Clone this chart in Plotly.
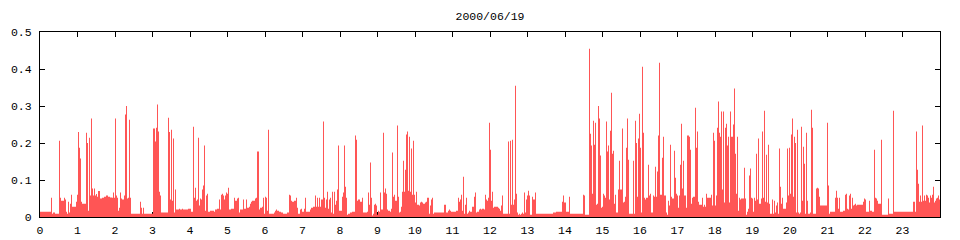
import plotly.graph_objects as go

TITLE = "2000/06/19"
SAMPLE_SECONDS = 96  # one sample every 1.6 minutes

# sample index at which the measured level changes, and the level from that sample on
change_sample = [
    0, 11, 12, 13, 15, 19, 20, 21, 24, 25,
    26, 27, 28, 29, 30, 31, 32, 36, 37, 38,
    39, 40, 41, 42, 46, 47, 48, 49, 50, 51,
    52, 53, 54, 55, 56, 57, 58, 60, 62, 64,
    66, 68, 70, 72, 73, 74, 75, 76, 77, 78,
    79, 80, 81, 82, 84, 85, 86, 87, 88, 89,
    90, 91, 100, 101, 102, 103, 104, 113, 115, 116,
    117, 118, 119, 120, 121, 128, 129, 130, 131, 132,
    133, 134, 135, 136, 139, 140, 142, 143, 148, 151,
    153, 154, 155, 156, 157, 158, 159, 160, 161, 162,
    163, 164, 165, 166, 167, 168, 170, 174, 175, 177,
    179, 180, 181, 182, 183, 184, 185, 186, 187, 188,
    189, 191, 194, 195, 197, 198, 199, 200, 203, 204,
    206, 207, 209, 210, 211, 212, 215, 216, 217, 219,
    220, 222, 223, 224, 225, 226, 227, 228, 229, 234,
    235, 236, 237, 239, 241, 243, 247, 249, 250, 251,
    252, 254, 256, 257, 258, 260, 261, 262, 264, 265,
    266, 270, 271, 273, 275, 276, 277, 278, 279, 280,
    281, 283, 284, 285, 286, 287, 288, 289, 290, 291,
    292, 293, 294, 295, 296, 297, 298, 299, 302, 303,
    304, 305, 306, 307, 308, 310, 312, 315, 316, 317,
    318, 320, 322, 323, 327, 328, 329, 330, 331, 332,
    333, 334, 335, 336, 337, 338, 339, 340, 341, 343,
    344, 345, 346, 347, 348, 350, 351, 352, 353, 354,
    355, 357, 358, 359, 360, 361, 362, 363, 364, 365,
    366, 367, 368, 369, 370, 371, 372, 373, 374, 375,
    376, 377, 379, 380, 381, 382, 383, 385, 386, 387,
    389, 390, 391, 392, 393, 394, 404, 406, 408, 409,
    410, 411, 416, 418, 419, 420, 421, 422, 423, 424,
    425, 426, 427, 428, 429, 430, 432, 434, 435, 436,
    437, 439, 440, 441, 442, 444, 445, 446, 447, 448,
    449, 450, 451, 452, 453, 454, 458, 459, 460, 461,
    462, 463, 468, 469, 470, 471, 472, 473, 474, 475,
    476, 477, 478, 479, 480, 481, 482, 483, 484, 485,
    486, 487, 488, 489, 490, 492, 493, 495, 496, 513,
    516, 522, 523, 524, 526, 529, 530, 543, 544, 545,
    549, 550, 551, 552, 553, 554, 555, 556, 557, 558,
    559, 560, 561, 562, 563, 564, 565, 566, 567, 568,
    569, 570, 571, 572, 573, 574, 575, 576, 578, 579,
    580, 582, 583, 584, 585, 586, 587, 588, 589, 593,
    594, 595, 596, 597, 598, 599, 600, 601, 602, 603,
    604, 605, 606, 608, 609, 610, 611, 613, 614, 615,
    616, 617, 618, 619, 620, 622, 623, 624, 626, 627,
    628, 629, 630, 631, 632, 634, 635, 636, 637, 638,
    639, 640, 641, 642, 643, 644, 646, 647, 649, 650,
    651, 652, 653, 655, 656, 657, 658, 659, 662, 663,
    664, 665, 666, 667, 671, 672, 673, 674, 675, 676,
    677, 678, 679, 680, 681, 682, 683, 684, 685, 686,
    687, 688, 689, 690, 691, 693, 694, 695, 696, 697,
    698, 699, 700, 701, 704, 705, 706, 707, 708, 709,
    710, 711, 712, 713, 714, 715, 716, 717, 718, 719,
    721, 722, 723, 724, 725, 726, 727, 728, 729, 730,
    732, 733, 734, 735, 736, 737, 738, 739, 740, 741,
    742, 743, 746, 747, 748, 749, 750, 751, 752, 753,
    754, 755, 756, 757, 758, 759, 760, 761, 762, 763,
    764, 765, 766, 767, 768, 770, 771, 772, 773, 776,
    777, 778, 779, 780, 787, 788, 789, 790, 795, 796,
    797, 798, 799, 800, 803, 805, 806, 807, 808, 809,
    810, 811, 812, 813, 814, 815, 816, 817, 823, 824,
    825, 826, 829, 830, 832, 834, 835, 836, 837, 838,
    841, 842, 848, 849, 853, 854, 873, 875, 876, 877,
    878, 879, 880, 881, 882, 883, 884, 885, 886, 887,
    888, 889, 890, 891, 892, 893, 894, 895, 896, 897,
    898, 899,
]

level = [
    .014, .052, .009, .012, .009, .206, .052, .044, .052, .047,
    .014, .009, .041, .012, .036, .060, .028, .041, .060, .230,
    .187, .158, .041, .036, .228, .200, .017, .214, .058, .266,
    .077, .058, .077, .058, .062, .055, .070, .050, .052, .055,
    .058, .055, .053, .052, .066, .052, .266, .058, .052, .017,
    .025, .066, .050, .047, .058, .277, .300, .050, .052, .263,
    .052, .009, .041, .025, .009, .025, .009, .239, .204, .241,
    .304, .231, .068, .058, .012, .268, .230, .047, .236, .044,
    .212, .012, .074, .020, .022, .020, .022, .020, .022, .014,
    .244, .052, .079, .044, .047, .214, .031, .050, .047, .074,
    .085, .193, .017, .058, .063, .014, .017, .014, .020, .022,
    .047, .020, .060, .063, .058, .047, .058, .066, .063, .079,
    .020, .022, .052, .044, .050, .052, .012, .020, .047, .022,
    .047, .025, .028, .036, .041, .044, .050, .052, .177, .020,
    .025, .028, .052, .009, .055, .052, .017, .236, .009, .012,
    .017, .020, .017, .014, .012, .009, .012, .060, .058, .044,
    .041, .044, .052, .025, .009, .020, .022, .014, .022, .052,
    .014, .020, .025, .028, .058, .028, .052, .028, .052, .028,
    .047, .258, .052, .025, .047, .068, .022, .047, .052, .012,
    .068, .009, .068, .033, .044, .074, .193, .017, .055, .066,
    .193, .082, .052, .006, .009, .012, .014, .220, .209, .044,
    .047, .041, .052, .012, .014, .066, .033, .147, .052, .004,
    .009, .033, .036, .031, .006, .017, .014, .066, .020, .228,
    .066, .077, .063, .020, .017, .014, .022, .174, .055, .060,
    .044, .247, .055, .012, .014, .028, .068, .152, .068, .128,
    .223, .231, .071, .217, .068, .185, .060, .206, .060, .039,
    .068, .033, .031, .039, .041, .039, .036, .039, .041, .052,
    .009, .031, .047, .052, .009, .012, .033, .012, .017, .020,
    .017, .014, .017, .052, .041, .047, .060, .017, .109, .009,
    .033, .052, .009, .012, .017, .014, .028, .055, .066, .012,
    .014, .020, .022, .020, .022, .020, .060, .047, .044, .052,
    .255, .182, .044, .068, .025, .028, .025, .022, .017, .031,
    .058, .009, .204, .009, .206, .033, .209, .033, .047, .355,
    .063, .012, .006, .009, .006, .009, .012, .009, .066, .012,
    .047, .058, .071, .058, .006, .055, .047, .066, .009, .012,
    .014, .041, .058, .039, .014, .055, .009, .060, .058, .006,
    .455, .225, .193, .063, .260, .195, .255, .033, .036, .300,
    .266, .166, .025, .028, .063, .058, .052, .258, .177, .193,
    .047, .233, .336, .171, .179, .036, .060, .012, .074, .152,
    .074, .239, .039, .041, .055, .187, .266, .155, .009, .152,
    .009, .260, .200, .055, .212, .279, .187, .012, .406, .228,
    .052, .047, .052, .141, .058, .063, .012, .058, .055, .136,
    .055, .123, .220, .417, .060, .160, .217, .058, .012, .006,
    .044, .031, .195, .055, .050, .179, .106, .063, .058, .025,
    .058, .141, .252, .077, .152, .058, .025, .220, .217, .182,
    .036, .052, .055, .295, .187, .231, .041, .033, .052, .028,
    .033, .028, .063, .052, .060, .031, .228, .206, .031, .058,
    .241, .312, .228, .217, .285, .074, .285, .039, .241, .252,
    .193, .217, .039, .285, .217, .250, .347, .171, .063, .217,
    .017, .052, .047, .050, .133, .050, .006, .014, .022, .112,
    .131, .052, .050, .014, .052, .044, .171, .047, .212, .036,
    .050, .231, .052, .287, .041, .168, .039, .195, .036, .009,
    .047, .009, .044, .012, .031, .039, .009, .185, .082, .036,
    .052, .022, .039, .185, .058, .187, .063, .223, .266, .055,
    .217, .200, .012, .236, .012, .009, .012, .244, .044, .190,
    .144, .009, .228, .044, .009, .012, .290, .241, .009, .077,
    .079, .077, .055, .031, .255, .085, .009, .014, .052, .071,
    .052, .022, .052, .014, .017, .060, .063, .022, .020, .058,
    .063, .022, .052, .031, .033, .036, .031, .033, .041, .050,
    .047, .014, .044, .017, .014, .182, .052, .050, .044, .036,
    .209, .006, .050, .009, .287, .014, .041, .014, .231, .128,
    .090, .041, .058, .041, .247, .044, .058, .044, .060, .058,
    .052, .039, .058, .052, .060, .082, .039, .044, .050, .052,
    .058, .047,
]

hour_ticks = list(range(24))
hour_labels = [str(h) for h in hour_ticks]
y_ticks = [0, 0.1, 0.2, 0.3, 0.4, 0.5]
y_labels = ["0", "0.1", "0.2", "0.3", "0.4", "0.5"]

assert len(change_sample) == len(level)

hours = [s * SAMPLE_SECONDS / 3600.0 for s in change_sample] + [24.0]
vals = level + [level[-1]]

RED = "#FF5555"
FONT = dict(family="Liberation Mono, DejaVu Sans Mono, monospace", size=11.5, color="black")

fig = go.Figure(
    go.Scatter(
        x=hours, y=vals, mode="lines",
        line=dict(width=0, shape="hv", color=RED),
        fill="tozeroy", fillcolor=RED,
        hoverinfo="skip", showlegend=False,
    )
)

axis_common = dict(
    showline=True, linecolor="black", linewidth=1, mirror="ticks",
    ticks="inside", ticklen=5, tickcolor="black", tickwidth=1,
    showgrid=False, zeroline=False, layer="below traces",
    tickfont=FONT, fixedrange=True, automargin=False,
)

fig.update_layout(
    width=960, height=240,
    margin=dict(l=40, r=20, t=32, b=23, pad=0, autoexpand=False),
    paper_bgcolor="white", plot_bgcolor="white",
    font=FONT,
    title=dict(text=TITLE, x=0.5, xref="paper", xanchor="center",
               y=1 - 15.5 / 240, yref="container", yanchor="middle", font=FONT),
    xaxis=dict(range=[0, 24], tickvals=hour_ticks, ticktext=hour_labels,
               ticklabelstandoff=2, **axis_common),
    yaxis=dict(range=[0, 0.5], tickvals=y_ticks, ticktext=y_labels,
               ticklabelstandoff=5, **axis_common),
)

fig.write_html("out.html")
